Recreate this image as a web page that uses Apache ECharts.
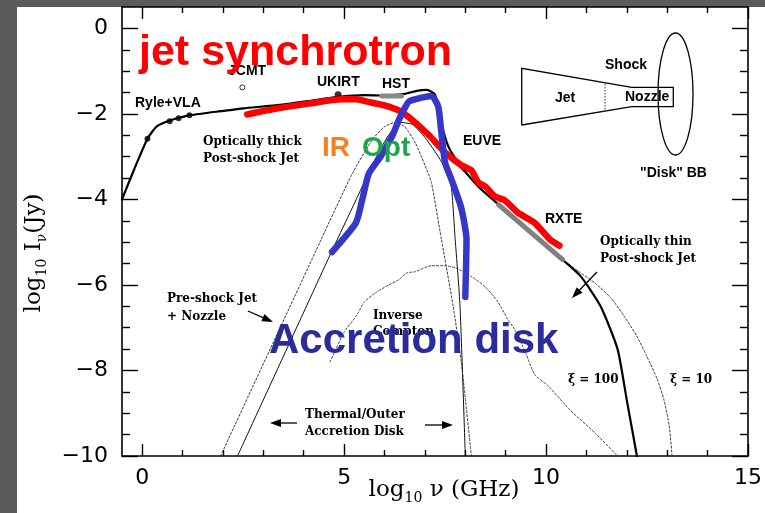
<!DOCTYPE html>
<html><head><meta charset="utf-8">
<script src="https://cdn.jsdelivr.net/npm/echarts@6/dist/echarts.min.js"></script>
<style>html,body{margin:0;padding:0;background:#5b5b5b}#c{width:765px;height:513px}</style>
</head><body><div id="c"></div>
<script>
// ---- tick values ----
const xMajorTicks = [0, 5, 10, 15];
const xMinorTicks = [1, 2, 3, 4, 6, 7, 8, 9, 11, 12, 13, 14];
const yMajorTicks = [-10, -8, -6, -4, -2, 0];
const yMinorTicks = [-9.5, -9, -8.5, -7.5, -7, -6.5, -5.5, -5, -4.5, -3.5, -3, -2.5, -1.5, -1, -0.5];

// ---- curves: [log10 nu (GHz), log10 I (Jy)] ----
const totalModel = [[-0.5,-4.0],[-0.2,-3.3],[0.13,-2.58],[0.35,-2.3],[0.55,-2.2],[0.8,-2.12],[1.2,-2.03],[2.0,-1.93],[2.5,-1.87],[3.3,-1.8],[4.1,-1.7],[4.85,-1.6],[5.5,-1.56],[6.0,-1.57],[6.5,-1.53],[6.8,-1.46],[7.05,-1.44],[7.25,-1.55],[7.4,-2.2],[7.58,-2.76],[7.83,-3.14],[8.32,-3.7],[8.8,-4.1],[9.5,-4.65],[10.0,-5.05],[10.41,-5.41],[10.86,-5.8],[11.35,-6.5],[11.77,-7.5],[12.0,-8.7],[12.25,-10]];
const thickJet = [[4.85,-1.6],[5.6,-1.68],[6.0,-1.8],[6.42,-2.0],[6.8,-2.25],[7.26,-2.67],[7.75,-3.14],[8.32,-3.7]];
const xi10 = [[10.41,-5.41],[10.8,-5.68],[11.2,-5.95],[11.6,-6.3],[11.94,-6.74],[12.25,-7.2],[12.5,-7.68],[12.75,-8.2],[12.92,-8.69],[13.05,-9.3],[13.12,-10]];
const preShock = [[1.94,-10],[4.43,-4.94],[5.2,-3.4],[5.7,-2.6],[6.0,-2.3],[6.27,-2.2],[6.5,-2.3],[6.76,-2.67],[7.0,-3.2],[7.16,-3.6],[7.41,-4.94],[7.7,-6.5],[7.9,-7.8],[8.15,-10]];
const thermalDisk = [[2.36,-10],[4.7,-5.2],[5.3,-4.0],[5.8,-3.0],[6.1,-2.5],[6.4,-2.2],[6.7,-2.25],[7.0,-2.55],[7.38,-3.07],[7.63,-3.54],[7.75,-4.94],[7.87,-6.5],[8.0,-10]];
const inverseCompton = [[4.65,-7.8],[4.79,-7.52],[5.0,-7.1],[5.29,-6.74],[5.5,-6.4],[5.78,-6.18],[6.1,-6.0],[6.35,-5.88],[6.55,-5.72],[6.76,-5.69],[7.16,-5.55],[7.5,-5.55],[7.75,-5.6],[8.15,-5.8],[8.5,-6.05],[8.81,-6.4],[9.05,-6.8],[9.23,-7.05],[9.5,-7.6],[9.72,-8.1],[10.04,-8.35],[10.6,-8.93],[11.2,-9.45],[11.77,-10]];
const jetSynchrotron = [[2.6,-2.01],[3.3,-1.88],[4.13,-1.76],[4.94,-1.66],[5.3,-1.66],[5.6,-1.72],[6.0,-1.8],[6.35,-1.92],[6.67,-2.13],[7.1,-2.5],[7.5,-2.9],[7.9,-3.2],[8.15,-3.32],[8.32,-3.6],[8.5,-3.7],[8.73,-3.93],[8.98,-4.02],[9.3,-4.31],[9.72,-4.55],[10.1,-4.94],[10.33,-5.08]];
const accretionDisk = [[4.7,-5.23],[5.29,-4.55],[5.45,-4.0],[5.61,-3.4],[5.9,-3.0],[6.2,-2.5],[6.35,-2.15],[6.52,-1.83],[6.62,-1.7],[7.16,-1.58],[7.33,-1.83],[7.4,-2.37],[7.5,-3.14],[7.66,-3.54],[7.9,-4.2],[8.03,-4.94],[8.0,-6.28]];
const hstBand = [[5.93,-1.58],[6.42,-1.58]];
const rxteBand = [[8.82,-4.12],[10.41,-5.41]];
const ryleVla = [[0.13,-2.58],[0.68,-2.17],[0.9,-2.1],[1.17,-2.03]];
const ukirt = [[4.85,-1.55]];
const jcmt = [[2.48,-1.38]];

const minus = v => String(v).replace('-', '\u2212');
const chart = echarts.init(document.getElementById('c'), null, {renderer:'canvas'});

const X = {type:'value', min:-0.5, max:15, splitLine:{show:false}, gridIndex:0};
const Y = {type:'value', min:-10, max:0.5, splitLine:{show:false}, gridIndex:0};
const tickStyle = {color:'#000', width:1.4};
const lineS = {show:true, onZero:false, lineStyle:{color:'#000', width:1.6}};
const noLine = {show:false, onZero:false};

function xAx(pos, major, withLabel){
  return Object.assign({}, X, {
    position:pos,
    axisLine: major ? lineS : noLine,
    axisTick:{show:true, inside:true, length: major?12:6, customValues: major?xMajorTicks:xMinorTicks, lineStyle:tickStyle},
    axisLabel: withLabel ? {show:true, customValues:xMajorTicks, fontFamily:'DejaVu Sans', fontSize:22, color:'#000', margin:11} : {show:false}
  });
}
function yAx(pos, major, withLabel){
  return Object.assign({}, Y, {
    position:pos,
    axisLine: major ? lineS : noLine,
    axisTick:{show:true, inside:true, length: major?16:8, customValues: major?yMajorTicks:yMinorTicks, lineStyle:tickStyle},
    axisLabel: withLabel ? {show:true, customValues:yMajorTicks, fontFamily:'DejaVu Sans', fontSize:22, color:'#000', margin:14, formatter:minus} : {show:false}
  });
}

function ln(data, color, width, type, z){
  return {type:'line', data, xAxisIndex:0, yAxisIndex:0, showSymbol:false, symbol:'none', smooth:0.2,
    lineStyle:{color, width, type:type||'solid', cap:'round', join:'round'}, z:z||2, silent:true, animation:false};
}

// annotation helpers (pixel positions)
function txt(text, x, y, font, fill, align, z){
  return {type:'text', z:z||50, style:{text, x, y, font, fill:fill||'#000', align:align||'left', textAlign:align||'left', verticalAlign:'middle', textVerticalAlign:'middle'}};
}
function arrow(x1,y1,x2,y2){
  const dx=x2-x1, dy=y2-y1, L=Math.hypot(dx,dy), ux=dx/L, uy=dy/L, h=11, w=4;
  const bx=x2-ux*h, by=y2-uy*h;
  return [
    {type:'line', z:50, shape:{x1,y1,x2:bx,y2:by}, style:{stroke:'#000', lineWidth:1.3}},
    {type:'polygon', z:50, shape:{points:[[x2,y2],[bx-uy*w,by+ux*w],[bx+uy*w,by-ux*w]]}, style:{fill:'#000'}}
  ];
}
const SB = 'bold 14px "Liberation Sans", Arial, sans-serif';
const SER = 'bold 12px "DejaVu Serif", serif';

const graphics = [
  {type:'rect', z:-100, shape:{x:17, y:7, width:748, height:506}, style:{fill:'#ffffff'}},
  // inset schematic
  {type:'polyline', z:40, shape:{points:[[521.7,125],[521.7,68.3],[631.7,87.3],[673.3,87.3],[673.3,106.7],[631.7,106.7],[521.7,125]]}, style:{stroke:'#000', lineWidth:1.3, fill:null}},
  {type:'line', z:40, shape:{x1:605, y1:84, x2:605, y2:112}, style:{stroke:'#333', lineWidth:1, lineDash:[1.5,1.5]}},
  {type:'ellipse', z:40, shape:{cx:675.5, cy:94, rx:17.5, ry:61}, style:{stroke:'#000', lineWidth:1.3, fill:null}},
  txt('Shock', 605, 65, SB), txt('Jet', 555, 98, SB), txt('Nozzle', 625, 97, SB), txt('"Disk" BB', 640, 173, SB),
  // instrument labels
  txt('Ryle+VLA', 135, 103, SB), txt('JCMT', 228, 71, SB), txt('UKIRT', 317, 82, SB), txt('HST', 382, 84, SB),
  txt('EUVE', 463, 141, SB), txt('RXTE', 545, 219, SB),
  // component labels
  txt('Optically thick', 203, 142, SER), txt('Post-shock Jet', 203, 159, SER),
  txt('Pre-shock Jet', 167, 299, SER), txt('+ Nozzle', 167, 317, SER),
  txt('Inverse', 373, 316, SER), txt('Compton', 373, 332, SER),
  txt('Thermal/Outer', 305, 415, SER), txt('Accretion Disk', 305, 432, SER),
  txt('Optically thin', 600, 242, SER), txt('Post-shock Jet', 600, 259, SER),
  txt('\u03be = 100', 568, 380, SER), txt('\u03be = 10', 670, 380, SER),
  ...arrow(248,311,273,322), ...arrow(297,423,270,423), ...arrow(425,425,453,425), ...arrow(597,272,572,298),
  // overlay colored labels
  txt('jet synchrotron', 139, 53, 'bold 43px "Liberation Sans", Arial, sans-serif', '#ff0000', 'left', 90),
  txt('IR', 322, 148, 'bold 28px "Liberation Sans", Arial, sans-serif', '#f5821f', 'left', 90),
  txt('Opt', 362, 148, 'bold 28px "Liberation Sans", Arial, sans-serif', '#1aa84b', 'left', 90),
  txt('Accretion disk', 269, 341, 'bold 42px "Liberation Sans", Arial, sans-serif', '#2b2b9c', 'left', 95),
  // axis titles
  {type:'text', z:50, x:444, y:492, style:{text:'{a|log}{s|10}{a| \u03bd (GHz)}', x:0, y:0, align:'center', textAlign:'center', verticalAlign:'middle', textVerticalAlign:'middle', fill:'#000',
     rich:{a:{fontFamily:'"DejaVu Serif", serif', fontSize:23, lineHeight:26, verticalAlign:'top', fill:'#000', color:'#000'}, s:{fontFamily:'"DejaVu Serif", serif', fontSize:14, lineHeight:14, verticalAlign:'bottom', fill:'#000', color:'#000'}}}},
  {type:'text', z:50, x:36, y:253, rotation:Math.PI/2, style:{text:'{a|log}{s|10}{a| I}{s|\u03bd}{a|(Jy)}', x:0, y:0, align:'center', textAlign:'center', verticalAlign:'middle', textVerticalAlign:'middle', fill:'#000',
     rich:{a:{fontFamily:'"DejaVu Serif", serif', fontSize:23, lineHeight:26, verticalAlign:'top', fill:'#000', color:'#000'}, s:{fontFamily:'"DejaVu Serif", serif', fontSize:14, lineHeight:14, verticalAlign:'bottom', fill:'#000', color:'#000'}}}}
];

const option = {
  backgroundColor:'#5b5b5b',
  animation:false,
  grid:{left:122, top:7, width:630, height:449, containLabel:false},
  xAxis:[xAx('bottom',true,true), xAx('bottom',false,false), xAx('top',true,false), xAx('top',false,false)],
  yAxis:[yAx('left',true,true), yAx('left',false,false), yAx('right',true,false), yAx('right',false,false)],
  series:[
    ln(preShock, '#333', 1, [2,2], 3),
    ln(thermalDisk, '#111', 1, 'solid', 3),
    ln(inverseCompton, '#444', 1, [2,2], 3),
    ln(xi10, '#333', 1, [2,2], 3),
    ln(thickJet, '#111', 1, 'solid', 3),
    ln(totalModel, '#000', 2.2, 'solid', 4),
    Object.assign(ln(hstBand, '#8a8a8a', 5, 'solid', 5), {smooth:false}),
    Object.assign(ln(rxteBand, '#808080', 5, 'solid', 5), {smooth:false}),
    {type:'scatter', data:ryleVla, symbol:'circle', symbolSize:6, itemStyle:{color:'#000'}, z:6, silent:true},
    {type:'scatter', data:ukirt, symbol:'circle', symbolSize:7, itemStyle:{color:'#000'}, z:6, silent:true},
    {type:'scatter', data:jcmt, symbol:'circle', symbolSize:5, itemStyle:{color:'#fff', borderColor:'#000', borderWidth:1}, z:6, silent:true},
    ln(jetSynchrotron, '#ff0000', 6.5, 'solid', 10),
    ln(accretionDisk, '#3636c8', 6.5, 'solid', 11)
  ],
  graphic:{elements:graphics}
};
chart.setOption(option);
</script></body></html>
